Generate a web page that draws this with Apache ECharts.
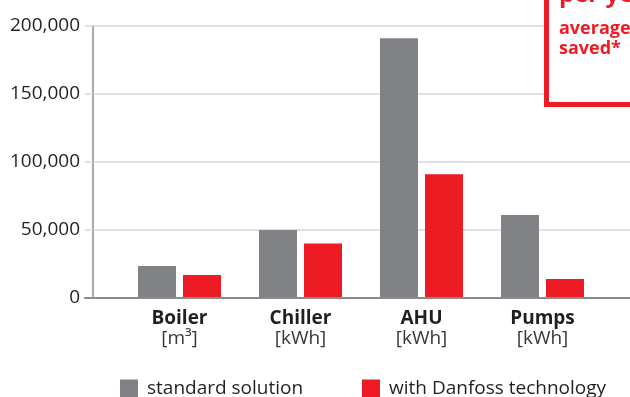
<!DOCTYPE html>
<html>
<head>
<meta charset="utf-8">
<style>
  html, body { margin: 0; padding: 0; background: #ffffff; }
  #chart { width: 630px; height: 397px; }
</style>
<script src="https://cdn.jsdelivr.net/npm/echarts@6/dist/echarts.min.js"></script>
</head>
<body>
<div id="chart"></div>
<script>
// Annual consumption per equipment type
const categories = ['Boiler', 'Chiller', 'AHU', 'Pumps'];
const units = ['[m³]', '[kWh]', '[kWh]', '[kWh]'];
const standardSolution = [23500, 50000, 191000, 61000];
const withDanfoss = [17000, 40000, 91000, 14000];
const yTicks = { min: 0, max: 200000, interval: 50000 };
const seriesNames = ['standard solution', 'with Danfoss technology'];

const FONT = '"Open Sans", "Noto Sans", sans-serif';
const GRAY = '#808285';
const RED = '#ed1c24';
const TEXT = '#231f20';

const chart = echarts.init(document.getElementById('chart'), null, { renderer: 'canvas' });

const fmt = v => v.toLocaleString('en-US');

chart.setOption({
  animation: false,
  textStyle: { fontFamily: FONT },
  grid: [
    // baseline axis (extends slightly left of the value axis)
    { left: 85, right: 0, top: 26, bottom: 99 },
    // value axis with gridlines
    { left: 93, right: 0, top: 26, bottom: 99 },
    // bars
    { left: 119, width: 484, top: 26, bottom: 99 }
  ],
  xAxis: [
    {
      gridIndex: 0, type: 'category', data: categories,
      axisLine: { show: true, lineStyle: { color: '#8a8b8e', width: 2 } },
      axisTick: { show: false }, axisLabel: { show: false }, z: 5
    },
    {
      gridIndex: 1, type: 'category', data: categories,
      axisLine: { show: false }, axisTick: { show: false }, axisLabel: { show: false }
    },
    {
      gridIndex: 2, type: 'category', data: categories,
      axisLine: { show: false }, axisTick: { show: false },
      axisLabel: {
        margin: 11,
        formatter: (v, i) => '{b|' + v + '}\n{u|' + units[i] + '}',
        rich: {
          b: { fontFamily: FONT, fontWeight: 'bold', fontSize: 19, color: TEXT, lineHeight: 20 },
          u: { fontFamily: FONT, fontSize: 19, color: '#3a3638', lineHeight: 20 }
        }
      }
    }
  ],
  yAxis: [
    {
      gridIndex: 0, type: 'value', ...yTicks,
      axisLine: { show: false }, axisTick: { show: false },
      axisLabel: { show: false }, splitLine: { show: false }
    },
    {
      gridIndex: 1, type: 'value', ...yTicks,
      axisLine: { show: true, lineStyle: { color: '#8b8c8f', width: 1.5 } },
      axisTick: { show: true, length: 8, lineStyle: { color: '#d3d9df', width: 1.5 } },
      axisLabel: { margin: 13, fontSize: 19, color: TEXT, fontFamily: FONT, formatter: fmt },
      splitLine: { show: true, lineStyle: { color: '#d3d9df', width: 1.5 } }
    },
    {
      gridIndex: 2, type: 'value', ...yTicks,
      axisLine: { show: false }, axisTick: { show: false },
      axisLabel: { show: false }, splitLine: { show: false }
    }
  ],
  legend: [
    {
      data: [seriesNames[0]], left: 120, top: 379, padding: 0,
      itemWidth: 18, itemHeight: 18, icon: 'rect',
      textStyle: { fontSize: 19, color: TEXT, fontFamily: FONT, padding: [0, 0, 0, 4] }
    },
    {
      data: [seriesNames[1]], left: 362, top: 379, padding: 0,
      itemWidth: 18, itemHeight: 18, icon: 'rect',
      textStyle: { fontSize: 19, color: TEXT, fontFamily: FONT, padding: [0, 0, 0, 4] }
    }
  ],
  series: [
    {
      name: seriesNames[0], type: 'bar', xAxisIndex: 2, yAxisIndex: 2,
      data: standardSolution, barWidth: 38, barGap: '18.4%',
      itemStyle: { color: GRAY }, z: 3
    },
    {
      name: seriesNames[1], type: 'bar', xAxisIndex: 2, yAxisIndex: 2,
      data: withDanfoss, barWidth: 38,
      itemStyle: { color: RED }, z: 3
    }
  ],
  graphic: [
    {
      type: 'rect', z: 100,
      shape: { x: 546.5, y: -20, width: 200, height: 124.5 },
      style: { fill: '#ffffff', stroke: RED, lineWidth: 5 }
    },
    {
      type: 'text', z: 101, x: 559, y: -5,
      style: { text: 'per year', fill: RED, font: 'bold 24px ' + FONT, verticalAlign: 'middle' }
    },
    {
      type: 'text', z: 101, x: 559, y: 29,
      style: { text: 'average', fill: RED, font: 'bold 18px ' + FONT, verticalAlign: 'middle' }
    },
    {
      type: 'text', z: 101, x: 559, y: 49,
      style: { text: 'saved*', fill: RED, font: 'bold 18px ' + FONT, verticalAlign: 'middle' }
    }
  ]
});
</script>
</body>
</html>
